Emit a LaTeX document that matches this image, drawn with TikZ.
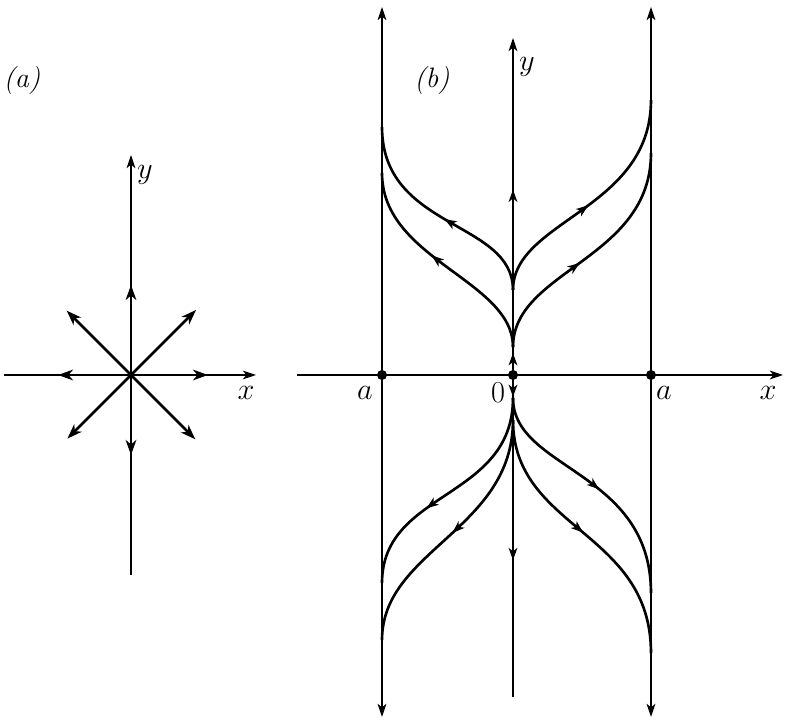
\documentclass[tikz,border=0pt]{standalone}
\usepackage{amsmath,amssymb}
\usetikzlibrary{arrows.meta,decorations.markings}

\begin{document}
\begin{tikzpicture}[
  axis/.style={line width=0.8pt},
  tip/.style={-{Stealth[length=7.5pt,width=5pt,inset=2pt]}},
  twotip/.style={{Stealth[length=7.5pt,width=5pt,inset=2pt]}-{Stealth[length=7.5pt,width=5pt,inset=2pt]}},
  raytip/.style={-{Stealth[length=8.5pt,width=6pt,inset=2.5pt]}},
  flow/.style={line width=1.5pt},
  midarrow/.style={postaction={decorate, decoration={markings,
    mark=at position #1 with {\arrow{Stealth[length=7pt,width=5pt,inset=2pt]}}}}},
  fixpt/.style={circle, fill=black, inner sep=0pt, minimum size=0.2cm},
  lbl/.style={font=\fontsize{16}{18}\selectfont}
]
\useasboundingbox (0,0) rectangle (15.72,14.4);

% Left: star node
\coordinate (oa) at (2.62,6.9);
\coordinate (axl) at (0.08,6.9);
\coordinate (axr) at (5.12,6.9);
\coordinate (ayb) at (2.62,2.9);
\coordinate (ayt) at (2.62,11.3);
\draw[axis, tip] (axl) -- (axr);
\draw[axis, tip] (ayb) -- (ayt);
\foreach \ang/\len [count=\i] in {0/1.54, 45/1.84, 90/1.8, 135/1.82, 180/1.46, 225/1.8, 270/1.6, 315/1.82}
  \draw[flow, raytip] (oa) -- ++(\ang:\len) coordinate (ray\i);
\node[lbl] (la) at (0.44,12.8) {\textit{(a)}};
\node[lbl] (ya) at (2.9,10.9) {$y$};
\node[lbl] (xa) at (4.92,6.54) {$x$};

% Right: fixed points and trajectories
\node[fixpt] (pl) at (7.64,6.9) {};
\node[fixpt] (p0) at (10.26,6.9) {};
\node[fixpt] (pr) at (13.02,6.9) {};
\coordinate (bxl) at (5.94,6.9);
\coordinate (bxr) at (15.66,6.9);
\coordinate (vlb) at (7.64,0.06);
\coordinate (vlt) at (7.64,14.26);
\coordinate (vrb) at (13.02,0.06);
\coordinate (vrt) at (13.02,14.26);
\coordinate (byt) at (10.26,13.64);
\coordinate (byb) at (10.26,0.46);
\draw[axis, tip] (bxl) -- (bxr);
\draw[axis, twotip] (vlb) -- (vlt);
\draw[axis, twotip] (vrb) -- (vrt);
\draw[axis, tip, midarrow=0.065, midarrow=0.55] (p0.center) -- (byt);
\draw[axis, midarrow=0.068, midarrow=0.575] (p0.center) -- (byb);

% where the curves leave the y axis
\coordinate (uo) at (10.26,8.6);
\coordinate (ui) at (10.26,7.46);
\coordinate (lo) at (10.26,6.44);
\coordinate (li) at (10.26,6.0);
% where they meet the lines x = a
\coordinate (rA) at (13.02,12.4);
\coordinate (rB) at (13.02,11.34);
\coordinate (lA) at (7.64,11.86);
\coordinate (lB) at (7.64,10.94);
\coordinate (rC) at (13.02,2.54);
\coordinate (rD) at (13.02,1.34);
\coordinate (lC) at (7.64,2.74);
\coordinate (lD) at (7.64,1.6);
\draw[flow] (li) -- (uo);
\draw[flow, midarrow=0.48] (uo) .. controls (10.26,10.0) and (13.02,10.2) .. (rA);
\draw[flow, midarrow=0.45] (ui) .. controls (10.26,9.0) and (13.02,9.2) .. (rB);
\draw[flow, midarrow=0.47] (uo) .. controls (10.26,10.0) and (7.64,9.8) .. (lA);
\draw[flow, midarrow=0.56] (ui) .. controls (10.26,8.8) and (7.64,9.2) .. (lB);
\draw[flow, midarrow=0.52] (lo) .. controls (10.26,5.0) and (13.02,5.0) .. (rC);
\draw[flow, midarrow=0.49] (li) .. controls (10.26,3.8) and (13.02,3.8) .. (rD);
\draw[flow, midarrow=0.62] (lo) .. controls (10.26,4.4) and (7.64,4.6) .. (lC);
\draw[flow, midarrow=0.5] (li) .. controls (10.26,3.8) and (7.64,3.4) .. (lD);

\node[lbl] (lb) at (8.64,12.8) {\textit{(b)}};
\node[lbl] (yb) at (10.54,13.06) {$y$};
\node[lbl] (al) at (7.3,6.54) {$a$};
\node[lbl] (zb) at (9.96,6.54) {$0$};
\node[lbl] (ar) at (13.28,6.54) {$a$};
\node[lbl] (xb) at (15.36,6.54) {$x$};
\end{tikzpicture}
\end{document}
